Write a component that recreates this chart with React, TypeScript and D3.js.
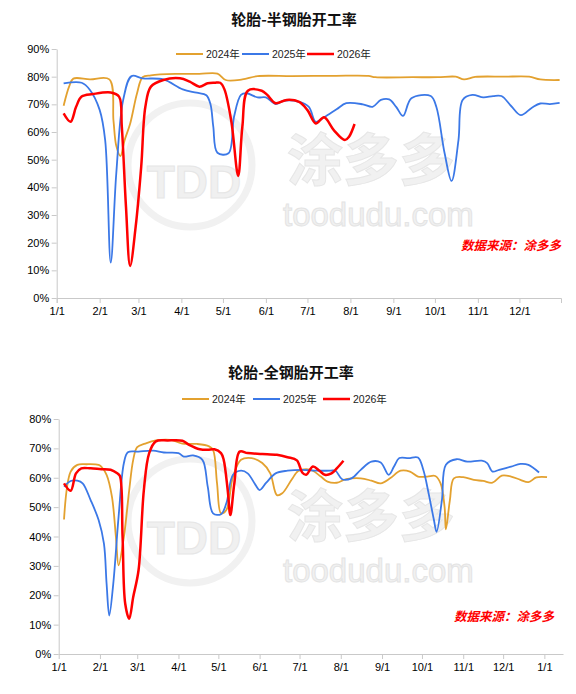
import React, { useEffect, useRef } from 'react';
import * as d3 from 'd3';

type Point = [string, number];

// all series share one calendar axis (a non-leap base year)
const BASE_YEAR = 2025;

const seriesNames = ['2024年', '2025年', '2026年'];
const monthTicks = ['01-01', '02-01', '03-01', '04-01', '05-01', '06-01', '07-01', '08-01', '09-01', '10-01', '11-01', '12-01'];
const bottomTicks = [...monthTicks, '2026-01-01'];

// 半钢胎开工率 (%)
const semi2024: Point[] = [
  ['01-06', 69.5], ['01-10', 76.5], ['01-13', 79.3], ['01-25', 79], ['02-08', 79], ['02-11', 64], ['02-13', 55],
  ['02-16', 51.3], ['02-19', 57], ['02-23', 63], ['02-28', 74], ['03-04', 79.8], ['03-10', 80.5], ['03-28', 81],
  ['04-14', 81], ['04-27', 81.1], ['05-03', 78.8], ['05-15', 79], ['05-26', 80.2], ['06-20', 80.2], ['07-20', 80.3],
  ['08-14', 80.3], ['08-19', 79.8], ['09-15', 79.8], ['10-03', 79.8], ['10-16', 80], ['10-22', 79], ['10-30', 79.9],
  ['11-20', 80], ['12-08', 80], ['12-16', 79], ['12-30', 78.8],
];
const semi2025: Point[] = [
  ['01-06', 77.6], ['01-19', 77.8], ['01-25', 75.2], ['02-01', 68], ['02-05', 57], ['02-09', 12.8], ['02-13', 45],
  ['02-18', 71.6], ['02-24', 80.2], ['03-04', 79.4], ['03-19', 79], ['04-02', 75.4], ['04-12', 74.2], ['04-19', 73.3],
  ['04-22', 70], ['04-24', 62], ['04-27', 52.5], ['05-05', 52.3], ['05-09', 65.5], ['05-14', 73.4], ['05-18', 74],
  ['05-26', 72.5], ['06-01', 72.5], ['06-08', 70.1], ['06-14', 71.3], ['06-25', 70.9], ['07-02', 69.1], ['07-07', 63.7],
  ['07-13', 65.3], ['07-22', 68.2], ['07-29', 70.4], ['08-10', 70], ['08-17', 69.1], ['08-23', 71.6], ['08-29', 71.8],
  ['09-03', 69.1], ['09-08', 65.8], ['09-14', 72.2], ['09-28', 73], ['10-02', 69.1], ['10-08', 52.3], ['10-13', 42.3],
  ['10-18', 57.1], ['10-21', 71.6], ['10-28', 73.4], ['11-05', 72.5], ['11-12', 73], ['11-18', 73], ['11-25', 69.4],
  ['12-02', 66.1], ['12-10', 68.8], ['12-16', 70.3], ['12-23', 70.1], ['12-30', 70.5],
];
const semi2026: Point[] = [
  ['01-06', 66.7], ['01-11', 63.7], ['01-15', 69.1], ['01-19', 72.8], ['01-27', 73.7], ['02-09', 74.3], ['02-15', 72.8],
  ['02-17', 61.9], ['02-20', 33], ['02-23', 11.6], ['02-27', 25.8], ['03-03', 47.5], ['03-06', 69.1], ['03-10', 76.4],
  ['03-19', 78.8], ['03-31', 79.4], ['04-07', 78.2], ['04-14', 76.4], ['04-20', 77.6], ['04-25', 77.8], ['04-29', 77.8],
  ['05-02', 75.5], ['05-07', 64], ['05-12', 44.1], ['05-15', 61.9], ['05-19', 74.9], ['05-29', 74.9], ['06-02', 73.4],
  ['06-08', 70.4], ['06-16', 71.6], ['06-25', 70.9], ['07-01', 67.9], ['07-07', 63.1], ['07-13', 65.3], ['07-20', 60.7],
  ['07-28', 57.1], ['07-31', 58.3], ['08-04', 62.9],
];

// 全钢胎开工率 (%)
const truck2024: Point[] = [
  ['01-05', 45.8], ['01-10', 62.1], ['01-15', 64.4], ['01-22', 64.6], ['01-31', 64.4], ['02-02', 63.8], ['02-06', 61],
  ['02-10', 53.6], ['02-13', 39.9], ['02-15', 30.2], ['02-19', 39.9], ['02-23', 55.8], ['02-26', 66.1], ['03-01', 70.4],
  ['03-07', 71.6], ['03-15', 72.7], ['03-26', 72.9], ['04-04', 71.6], ['04-15', 71.5], ['04-24', 70.7], ['04-27', 69.5],
  ['04-30', 58.1], ['05-03', 47.9], ['05-07', 49], ['05-12', 60.4], ['05-18', 66.1], ['05-26', 66.7], ['06-03', 65],
  ['06-09', 61.5], ['06-14', 54.1], ['06-18', 54.7], ['06-25', 59.3], ['06-30', 62.3], ['07-06', 62.9], ['07-11', 62.4],
  ['07-17', 60.4], ['07-22', 58.7], ['07-29', 58.3], ['08-05', 59.5], ['08-16', 59.8], ['08-24', 59], ['08-31', 58.1],
  ['09-07', 59.8], ['09-15', 62.4], ['09-22', 62.1], ['09-28', 60.4], ['10-05', 60.4], ['10-11', 60.6], ['10-15', 58.1],
  ['10-18', 50.1], ['10-19', 42.4], ['10-22', 52.4], ['10-25', 59.8], ['11-01', 60.2], ['11-09', 59.3], ['11-16', 58.9],
  ['11-23', 58.3], ['11-30', 60.7], ['12-07', 60.4], ['12-14', 59.3], ['12-20', 58.5], ['12-26', 60.1], ['2026-01-03', 60.2],
];
const truck2025: Point[] = [
  ['01-05', 57], ['01-10', 58.9], ['01-15', 59], ['01-19', 58.1], ['01-25', 52.4], ['01-31', 45.6], ['02-04', 37.6],
  ['02-06', 23.9], ['02-08', 13.1], ['02-11', 23.9], ['02-15', 46.7], ['02-19', 65], ['02-22', 68.7], ['03-02', 68.9],
  ['03-13', 69.2], ['03-21', 68.6], ['04-01', 68.4], ['04-05', 67.2], ['04-12', 67.6], ['04-19', 66.1], ['04-23', 57],
  ['04-27', 47.9], ['05-03', 47.6], ['05-07', 51.3], ['05-12', 61], ['05-18', 62.4], ['05-23', 61.5], ['05-29', 57.5],
  ['06-01', 55.8], ['06-06', 58.3], ['06-13', 61.5], ['06-22', 62.4], ['07-03', 62.7], ['07-14', 62.4], ['07-24', 62.4],
  ['07-28', 62.4], ['08-02', 59.5], ['08-09', 59.8], ['08-16', 62.7], ['08-24', 65.5], ['08-31', 65.2], ['09-06', 61],
  ['09-10', 63.8], ['09-14', 66.7], ['09-21', 66.7], ['09-28', 66.9], ['10-02', 62.7], ['10-06', 54.7], ['10-10', 45.6],
  ['10-12', 41.6], ['10-16', 52.4], ['10-19', 64.4], ['10-27', 66.3], ['11-04', 65.5], ['11-15', 65.8], ['11-19', 65],
  ['11-23', 62.1], ['11-28', 62.7], ['12-07', 63.8], ['12-14', 64.7], ['12-20', 64.4], ['12-28', 61.8],
];
const truck2026: Point[] = [
  ['01-05', 58.1], ['01-10', 55.6], ['01-14', 61.5], ['01-18', 63.2], ['01-25', 63.2], ['02-02', 62.9], ['02-09', 62.7],
  ['02-14', 61.5], ['02-16', 60.6], ['02-18', 39.9], ['02-20', 17.1], ['02-23', 12], ['02-26', 19.4], ['03-02', 28.5],
  ['03-06', 55.8], ['03-10', 68.4], ['03-15', 72.4], ['03-24', 72.7], ['04-04', 72.6], ['04-09', 71.2], ['04-17', 69.7],
  ['04-23', 69.5], ['04-28', 69.7], ['05-03', 68.4], ['05-05', 66.1], ['05-08', 55.8], ['05-10', 47.3], ['05-13', 58.1],
  ['05-17', 68.9], ['05-23', 68.4], ['06-03', 68.1], ['06-14', 67.8], ['06-22', 67], ['06-29', 65.9], ['07-03', 61.8],
  ['07-06', 61], ['07-11', 63.8], ['07-16', 62.4], ['07-20', 61], ['07-25', 61.5], ['07-29', 63.2], ['08-03', 65.8],
];

const COLORS = ['#E3A12F', '#3B78E7', '#FF0000'];
const WIDTHS = [1.8, 1.8, 2.5];
const AXIS = '#C9C9C9';
const FONT = '"Liberation Sans", Arial, "Noto Sans CJK SC", sans-serif';
const CJK = '"Noto Sans CJK SC", sans-serif';

const parseDay = d3.timeParse('%Y-%m-%d');
const toDate = (s: string) => parseDay(s.length > 5 ? s : `${BASE_YEAR}-${s}`) as Date;

interface ChartProps {
  title: string;
  series: Point[][];
  yMax: number;
  left: number;
  right: number;
  top: number;
  bottom: number;
  xEnd: string;
  xTicks: string[];
  endTick: boolean;
  titleX: number;
  titleY: number;
  legendY: number;
  legendX: number[];
  sourceX: number;
  sourceY: number;
  markDy: number;
}

const Chart: React.FC<ChartProps> = (p) => {
  const ref = useRef<SVGGElement | null>(null);

  useEffect(() => {
    if (!ref.current) return;
    const g = d3.select(ref.current);
    g.selectAll('*').remove();

    const x = d3.scaleTime().domain([toDate('01-01'), toDate(p.xEnd)]).range([p.left, p.right]);
    const y = d3.scaleLinear().domain([0, p.yMax]).range([p.bottom, p.top]);

    // watermark
    const wm = g.append('g').attr('transform', `translate(0,${p.markDy})`).attr('pointer-events', 'none');
    wm.append('circle').attr('cx', 190).attr('cy', 165).attr('r', 62)
      .attr('fill', 'none').attr('stroke', '#f1f1f1').attr('stroke-width', 7);
    wm.append('text').attr('x', 194).attr('y', 198).attr('text-anchor', 'middle')
      .attr('font-family', FONT).attr('font-weight', 700).attr('font-size', 46)
      .attr('fill', '#f0f0f0').attr('stroke', '#e6e6e6').attr('stroke-width', 1).text('TDD');
    wm.append('text').attr('x', 287).attr('y', 180)
      .attr('font-family', CJK).attr('font-weight', 700).attr('font-size', 56)
      .attr('fill', '#f1f1f1').attr('stroke', '#e6e6e6').attr('stroke-width', 1).text('涂多多');
    wm.append('text').attr('x', 283).attr('y', 226)
      .attr('font-family', FONT).attr('font-size', 33)
      .attr('fill', '#f1f1f1').attr('stroke', '#e4e4e4').attr('stroke-width', 1).text('toodudu.com');

    // title
    g.append('text').attr('x', p.titleX).attr('y', p.titleY).attr('text-anchor', 'middle')
      .attr('font-family', CJK).attr('font-weight', 700).attr('font-size', 15).attr('fill', '#111')
      .text(p.title);

    // axes
    const yAxis = d3.axisLeft(y)
      .tickValues(d3.range(0, p.yMax + 1, 10))
      .tickSize(5).tickSizeOuter(0).tickPadding(2.5)
      .tickFormat((d) => `${d}%`);
    g.append('g').attr('transform', `translate(${p.left},0)`).call(yAxis)
      .attr('font-family', FONT).attr('font-size', 11)
      .call((a) => a.select('.domain').attr('stroke', AXIS))
      .call((a) => a.selectAll('.tick line').attr('stroke', AXIS))
      .call((a) => a.selectAll('.tick text').attr('fill', '#000'));

    const xAxis = d3.axisBottom(x)
      .tickValues(p.xTicks.map(toDate))
      .tickSize(5).tickSizeOuter(p.endTick ? 5 : 0).tickPadding(4)
      .tickFormat((d) => d3.timeFormat('%-m/%-d')(d as Date));
    g.append('g').attr('transform', `translate(0,${p.bottom})`).call(xAxis)
      .attr('font-family', FONT).attr('font-size', 11)
      .call((a) => a.select('.domain').attr('stroke', AXIS))
      .call((a) => a.selectAll('.tick line').attr('stroke', AXIS))
      .call((a) => a.selectAll('.tick text').attr('fill', '#000'));

    // lines
    const line = d3.line<Point>()
      .x((d) => x(toDate(d[0])))
      .y((d) => y(d[1]))
      .curve(d3.curveCatmullRom.alpha(0.5));
    p.series.forEach((s, i) => {
      g.append('path').datum(s).attr('d', line)
        .attr('fill', 'none').attr('stroke', COLORS[i]).attr('stroke-width', WIDTHS[i])
        .attr('stroke-linejoin', 'round');
    });

    // legend
    seriesNames.forEach((name, i) => {
      const lx = p.legendX[i];
      g.append('line').attr('x1', lx).attr('x2', lx + 27).attr('y1', p.legendY).attr('y2', p.legendY)
        .attr('stroke', COLORS[i]).attr('stroke-width', i === 2 ? 2.5 : 2);
      g.append('text').attr('x', lx + 30).attr('y', p.legendY + 4)
        .attr('font-family', FONT).attr('font-size', 10.5).attr('fill', '#222').text(name);
    });

    // source
    g.append('text').attr('x', p.sourceX).attr('y', p.sourceY).attr('text-anchor', 'end')
      .attr('font-family', CJK).attr('font-weight', 700).attr('font-style', 'italic')
      .attr('font-size', 12.5).attr('fill', '#FF0000').text('数据来源：涂多多');
  }, [p]);

  return <g ref={ref} />;
};

const App: React.FC = () => (
  <svg width={576} height={694} style={{ position: 'absolute', left: 0, top: 0, background: '#fff' }}>
    <Chart
      title="轮胎-半钢胎开工率"
      series={[semi2024, semi2025, semi2026]}
      yMax={90}
      left={56.7}
      right={561}
      top={49}
      bottom={298}
      xEnd="12-31"
      xTicks={monthTicks}
      endTick={true}
      titleX={294}
      titleY={25}
      legendY={54}
      legendX={[176, 242, 307]}
      sourceX={561}
      sourceY={250}
      markDy={0}
    />
    <Chart
      title="轮胎-全钢胎开工率"
      series={[truck2024, truck2025, truck2026]}
      yMax={80}
      left={58.7}
      right={563}
      top={419}
      bottom={654}
      xEnd="2026-01-15"
      xTicks={bottomTicks}
      endTick={false}
      titleX={291}
      titleY={378}
      legendY={399}
      legendX={[182, 253, 323]}
      sourceX={554}
      sourceY={621}
      markDy={356}
    />
  </svg>
);

export default App;
